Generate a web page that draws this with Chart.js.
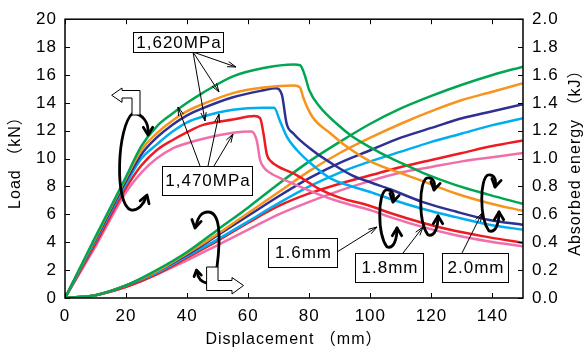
<!DOCTYPE html>
<html>
<head>
<meta charset="utf-8">
<script src="https://cdn.jsdelivr.net/npm/chart.js@4.4.0/dist/chart.umd.min.js"></script>
<style>
  html, body { margin: 0; padding: 0; background: #fff; }
  #wrap { width: 587px; height: 354px; }
</style>
</head>
<body>
<div id="wrap"><canvas id="chart" width="587" height="354"></canvas></div>
<script>
const FONT = "'Liberation Sans', Arial, 'Noto Sans CJK JP', sans-serif";

// colours of the six specimens
const GREEN = '#00a651', ORANGE = '#f7941d', NAVY = '#2e3192',
      CYAN = '#00aeef', RED = '#ed1c24', PINK = '#f06eaa';

// load - displacement (kN vs mm)
const greenLoadX = [0, 10, 20, 25, 30, 35, 40, 45, 55, 65, 75, 77, 78.5, 80, 83.5, 89, 94, 100, 106, 112, 117, 128, 139, 150];
const greenLoadY = [0, 4.4, 8.7, 10.9, 12.3, 13.2, 14.0, 14.7, 15.9, 16.5, 16.75, 16.7, 16.0, 14.9, 13.7, 12.5, 11.6, 10.8, 10.1, 9.5, 9.0, 8.1, 7.4, 6.75];

const orangeLoadX = [0, 10, 20, 25, 30, 35, 40, 45, 55, 65, 75, 77, 78, 81, 87, 92, 100, 108, 112, 117, 128, 139, 150];
const orangeLoadY = [0, 4.3, 8.6, 10.6, 11.8, 12.7, 13.4, 13.9, 14.7, 15.1, 15.25, 15.1, 14.4, 13.0, 11.8, 10.9, 9.8, 9.1, 8.8, 8.4, 7.5, 6.8, 6.25];

const navyLoadX = [0, 10, 20, 25, 30, 35, 40, 45, 55, 65, 69, 71, 72.6, 74.8, 81, 87, 94, 100, 106.5, 117, 128, 139, 150];
const navyLoadY = [0, 4.2, 8.4, 10.3, 11.5, 12.4, 13.1, 13.6, 14.4, 14.9, 15.05, 14.6, 12.5, 11.8, 10.6, 9.7, 8.8, 8.3, 7.8, 6.9, 6.2, 5.6, 5.25];

const cyanLoadX = [0, 10, 20, 25, 30, 35, 40, 45, 55, 65, 68.5, 70.4, 72.6, 76, 81.3, 86.8, 94, 100, 106.5, 117, 128, 139, 150];
const cyanLoadY = [0, 4.1, 8.2, 10.0, 11.0, 11.9, 12.6, 13.0, 13.5, 13.65, 13.65, 12.7, 11.6, 10.6, 9.5, 8.6, 8.0, 7.6, 7.1, 6.4, 5.8, 5.26, 4.9];

const redLoadX = [0, 10, 20, 25, 30, 35, 40, 45, 55, 62, 63.9, 65, 66.1, 67.5, 69.3, 76, 83.5, 90, 100, 106.5, 117, 128, 139, 150];
const redLoadY = [0, 3.9, 7.9, 9.5, 10.6, 11.3, 11.9, 12.4, 12.8, 13.05, 12.9, 11.8, 10.3, 9.8, 9.5, 8.8, 7.8, 7.2, 6.6, 6.1, 5.4, 4.8, 4.35, 3.95];

const pinkLoadX = [0, 10, 20, 25, 30, 35, 40, 45, 55, 61, 62.8, 63.9, 65, 67, 73.7, 83.5, 90, 100, 106.5, 117, 128, 139, 150];
const pinkLoadY = [0, 3.7, 7.6, 9.0, 10.0, 10.7, 11.1, 11.4, 11.85, 11.95, 11.3, 9.9, 9.4, 9.0, 8.3, 7.4, 6.9, 6.3, 5.8, 5.1, 4.5, 4.05, 3.7];

// absorbed energy - displacement (kJ vs mm)
const energyX = [0, 10, 20, 30, 40, 50, 60, 70, 80, 90, 100, 110, 120, 130, 140, 150];
const greenEnergy  = [0, 0.02, 0.09, 0.20, 0.33, 0.49, 0.65, 0.82, 0.98, 1.12, 1.25, 1.36, 1.45, 1.53, 1.60, 1.66];
const orangeEnergy = [0, 0.02, 0.09, 0.19, 0.32, 0.46, 0.61, 0.76, 0.91, 1.04, 1.15, 1.25, 1.34, 1.42, 1.48, 1.54];
const navyEnergy   = [0, 0.02, 0.09, 0.19, 0.31, 0.45, 0.59, 0.73, 0.86, 0.97, 1.06, 1.15, 1.22, 1.29, 1.34, 1.39];
const cyanEnergy   = [0, 0.02, 0.09, 0.18, 0.30, 0.42, 0.55, 0.68, 0.80, 0.90, 0.98, 1.05, 1.12, 1.18, 1.24, 1.29];
const redEnergy    = [0, 0.02, 0.08, 0.17, 0.29, 0.41, 0.54, 0.66, 0.75, 0.82, 0.88, 0.94, 0.99, 1.04, 1.09, 1.13];
const pinkEnergy   = [0, 0.02, 0.08, 0.17, 0.27, 0.38, 0.49, 0.60, 0.69, 0.77, 0.84, 0.90, 0.94, 0.98, 1.01, 1.04];

function series(label, xs, ys, color, axis) {
    return {
        label: label,
        data: xs.map((x, i) => ({ x: x, y: ys[i] })),
        borderColor: color,
        borderWidth: 2.5,
        pointRadius: 0,
        fill: false,
        cubicInterpolationMode: 'monotone',
        yAxisID: axis
    };
}

function arrowHead(ctx, x, y, ang, len, spread) {
    ctx.moveTo(x - len * Math.cos(ang - spread), y - len * Math.sin(ang - spread));
    ctx.lineTo(x, y);
    ctx.lineTo(x - len * Math.cos(ang + spread), y - len * Math.sin(ang + spread));
}

function thinArrow(ctx, x1, y1, x2, y2) {
    ctx.beginPath();
    ctx.moveTo(x1, y1);
    ctx.lineTo(x2, y2);
    arrowHead(ctx, x2, y2, Math.atan2(y2 - y1, x2 - x1), 9, 0.3);
    ctx.stroke();
}

function labelBox(ctx, x1, y1, x2, y2, text) {
    ctx.fillStyle = '#fff';
    ctx.fillRect(x1, y1, x2 - x1, y2 - y1);
    ctx.strokeRect(x1 + 0.5, y1 + 0.5, x2 - x1, y2 - y1);
    ctx.fillStyle = '#000';
    ctx.fillText(text, (x1 + x2) / 2 + 1, (y1 + y2) / 2 + 1);
}

// tall narrow curl with a hook at the top and an arrow at the bottom
function curl(ctx, x0, yTop, yBot) {
    ctx.beginPath();
    ctx.moveTo(x0 + 13, yTop + 12);
    ctx.bezierCurveTo(x0 + 15, yTop + 3, x0 + 11, yTop - 1, x0 + 6, yTop);
    ctx.bezierCurveTo(x0 - 2, yTop + 3, x0 - 3, yBot - 14, x0 + 7, yBot);
    ctx.bezierCurveTo(x0 + 14, yBot + 2, x0 + 17, yBot - 8, x0 + 17, yBot - 19);
    ctx.stroke();
    ctx.beginPath();
    arrowHead(ctx, x0 + 13, yTop + 12, Math.PI / 2 + 0.2, 9, 0.55);
    arrowHead(ctx, x0 + 17, yBot - 19, -Math.PI / 2, 9, 0.55);
    ctx.stroke();
}

const decor = {
    id: 'decor',
    beforeDraw(chart) {
        chart.ctx.letterSpacing = '1px';
    },
    afterDraw(chart) {
        const { ctx, chartArea: a, scales } = chart;
        ctx.save();
        ctx.strokeStyle = '#000';
        ctx.fillStyle = '#000';

        // frame
        ctx.lineWidth = 1.5;
        ctx.strokeRect(a.left, a.top, a.right - a.left, a.bottom - a.top);

        // inward ticks
        ctx.lineWidth = 1;
        ctx.beginPath();
        scales.x.ticks.forEach(t => {
            const p = Math.round(scales.x.getPixelForValue(t.value)) + 0.5;
            ctx.moveTo(p, a.bottom); ctx.lineTo(p, a.bottom - 5);
            ctx.moveTo(p, a.top); ctx.lineTo(p, a.top + 5);
        });
        scales.y.ticks.forEach(t => {
            const p = Math.round(scales.y.getPixelForValue(t.value)) + 0.5;
            ctx.moveTo(a.left, p); ctx.lineTo(a.left + 5, p);
        });
        scales.y2.ticks.forEach(t => {
            const p = Math.round(scales.y2.getPixelForValue(t.value)) + 0.5;
            ctx.moveTo(a.right, p); ctx.lineTo(a.right - 5, p);
        });
        ctx.stroke();

        // right axis title, reading upwards
        ctx.font = '16px ' + FONT;
        ctx.textAlign = 'center';
        ctx.textBaseline = 'middle';
        ctx.save();
        ctx.translate(576, (a.top + a.bottom) / 2);
        ctx.rotate(-Math.PI / 2);
        ctx.fillText('Absorbed energy （kJ）', 0, 0);
        ctx.restore();

        // label boxes and their pointers
        ctx.lineWidth = 1;
        thinArrow(ctx, 193, 52, 236, 67);
        thinArrow(ctx, 193, 52, 219, 92);
        thinArrow(ctx, 193, 52, 205, 121);
        thinArrow(ctx, 200, 166, 178, 107);
        thinArrow(ctx, 208, 166, 219, 114);
        thinArrow(ctx, 214, 166, 233, 134);
        thinArrow(ctx, 337, 252, 377, 227);
        thinArrow(ctx, 403, 253, 423, 227);
        thinArrow(ctx, 462, 253, 482, 213);

        ctx.font = '17px ' + FONT;
        labelBox(ctx, 133, 32, 223, 52, '1,620MPa');
        labelBox(ctx, 162, 166, 252, 195, '1,470MPa');
        labelBox(ctx, 268, 238, 337, 267, '1.6mm');
        labelBox(ctx, 355, 253, 423, 282, '1.8mm');
        labelBox(ctx, 442, 253, 508, 282, '2.0mm');

        // curled arrows
        ctx.lineWidth = 2.8;
        ctx.lineCap = 'round';
        ctx.lineJoin = 'round';

        // upper-left loop
        ctx.beginPath();
        ctx.moveTo(148, 133);
        ctx.bezierCurveTo(149, 122, 142, 114, 133, 113);
        ctx.bezierCurveTo(117, 125, 114, 205, 131, 210);
        ctx.bezierCurveTo(138, 211, 144, 204, 146, 197);
        ctx.stroke();
        ctx.beginPath();
        arrowHead(ctx, 148, 135, Math.PI / 2, 9, 0.55);
        arrowHead(ctx, 147, 195, -1.25, 9, 0.55);
        ctx.stroke();

        // lower loop
        ctx.beginPath();
        ctx.moveTo(217, 267);
        ctx.bezierCurveTo(221, 235, 220, 212, 208, 212);
        ctx.bezierCurveTo(201, 212, 198, 217, 196, 226);
        ctx.moveTo(207, 283);
        ctx.bezierCurveTo(201, 282, 198, 278, 197, 272);
        ctx.stroke();
        ctx.beginPath();
        arrowHead(ctx, 195, 228, Math.PI / 2 + 0.2, 9, 0.55);
        arrowHead(ctx, 196.5, 270, -Math.PI / 2 - 0.2, 7, 0.55);
        ctx.stroke();

        curl(ctx, 380, 190, 247);
        curl(ctx, 421, 178, 235);
        curl(ctx, 482, 175, 231);

        // hollow block arrows
        ctx.lineWidth = 1;
        ctx.fillStyle = '#fff';
        ctx.beginPath();
        ctx.moveTo(112, 95);
        ctx.lineTo(122, 88);
        ctx.lineTo(122, 90.5);
        ctx.lineTo(140, 90.5);
        ctx.lineTo(140, 115);
        ctx.lineTo(132, 115);
        ctx.lineTo(132, 98);
        ctx.lineTo(122, 98);
        ctx.lineTo(122, 102);
        ctx.closePath();
        ctx.fill();
        ctx.stroke();

        ctx.beginPath();
        ctx.moveTo(207, 267);
        ctx.lineTo(218, 267);
        ctx.lineTo(218, 280.5);
        ctx.lineTo(232, 280.5);
        ctx.lineTo(232, 277.5);
        ctx.lineTo(243.5, 285.5);
        ctx.lineTo(232, 294);
        ctx.lineTo(232, 290.5);
        ctx.lineTo(207, 290.5);
        ctx.closePath();
        ctx.fill();
        ctx.stroke();

        ctx.restore();
    }
};

Chart.defaults.font.family = FONT;
Chart.defaults.font.size = 16;
Chart.defaults.color = '#000';

const tickFont = { size: 17 };

new Chart(document.getElementById('chart'), {
    type: 'line',
    data: {
        datasets: [
            series('1,620MPa 2.0mm', greenLoadX, greenLoadY, GREEN, 'y'),
            series('1,620MPa 1.8mm', orangeLoadX, orangeLoadY, ORANGE, 'y'),
            series('1,620MPa 1.6mm', navyLoadX, navyLoadY, NAVY, 'y'),
            series('1,470MPa 2.0mm', cyanLoadX, cyanLoadY, CYAN, 'y'),
            series('1,470MPa 1.8mm', redLoadX, redLoadY, RED, 'y'),
            series('1,470MPa 1.6mm', pinkLoadX, pinkLoadY, PINK, 'y'),
            series('E 1,620MPa 2.0mm', energyX, greenEnergy, GREEN, 'y2'),
            series('E 1,620MPa 1.8mm', energyX, orangeEnergy, ORANGE, 'y2'),
            series('E 1,620MPa 1.6mm', energyX, navyEnergy, NAVY, 'y2'),
            series('E 1,470MPa 2.0mm', energyX, cyanEnergy, CYAN, 'y2'),
            series('E 1,470MPa 1.8mm', energyX, redEnergy, RED, 'y2'),
            series('E 1,470MPa 1.6mm', energyX, pinkEnergy, PINK, 'y2')
        ]
    },
    options: {
        responsive: false,
        animation: false,
        devicePixelRatio: 1,
        layout: { padding: { top: 13, left: 0, right: 0, bottom: 0 } },
        plugins: {
            legend: { display: false },
            tooltip: { enabled: false }
        },
        scales: {
            x: {
                type: 'linear',
                min: 0,
                max: 150,
                grid: { display: false, drawTicks: false },
                border: { display: false },
                ticks: { stepSize: 20, includeBounds: false, padding: 8, maxRotation: 0, font: tickFont },
                title: { display: true, text: 'Displacement （mm）', padding: { top: 0, bottom: 5 } },
                afterFit: s => { s.height = 56; }
            },
            y: {
                position: 'left',
                min: 0,
                max: 20,
                grid: { display: false, drawTicks: false },
                border: { display: false },
                ticks: { stepSize: 2, padding: 8, font: tickFont },
                title: { display: true, text: 'Load （kN）', padding: { top: 6, bottom: 0 } },
                afterFit: s => { s.width = 65; }
            },
            y2: {
                position: 'right',
                min: 0,
                max: 2,
                grid: { display: false, drawTicks: false },
                border: { display: false },
                ticks: { stepSize: 0.2, padding: 9, font: tickFont, callback: v => v.toFixed(1) },
                afterFit: s => { s.width = 64; }
            }
        }
    },
    plugins: [decor]
});
</script>
</body>
</html>
